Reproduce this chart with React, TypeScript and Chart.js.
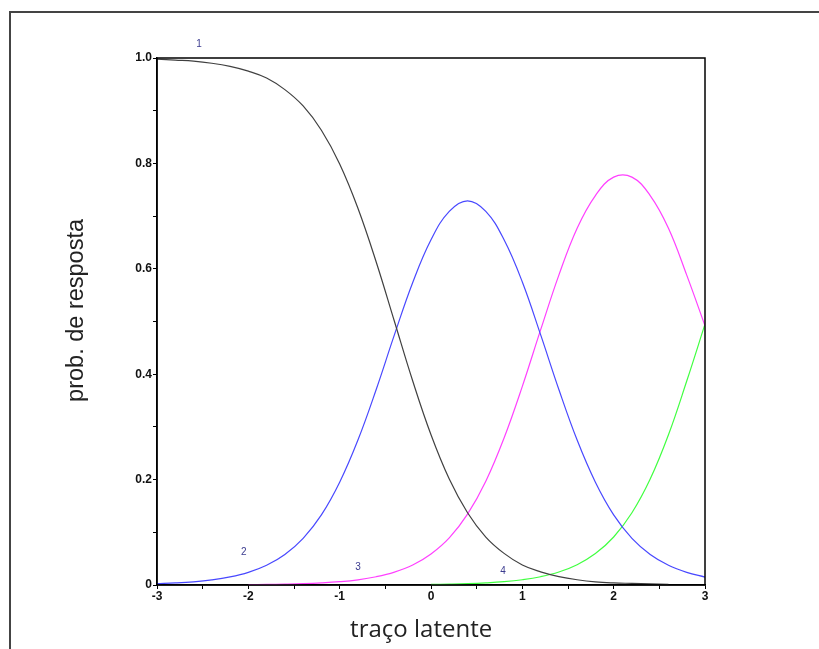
import React, { useEffect, useRef } from "react";
import { Chart, registerables } from "chart.js";

Chart.register(...registerables);

// latent trait values (x axis)
const theta = [-3, -2.8, -2.6, -2.4, -2.2, -2, -1.8, -1.6, -1.4, -1.2, -1, -0.8, -0.6, -0.4, -0.2, 0, 0.2, 0.4, 0.6, 0.8, 1, 1.2, 1.4, 1.6, 1.8, 2, 2.2, 2.4, 2.6, 2.8, 3];

// category 1 (black)
const cat1 = [0.998, 0.996, 0.994, 0.99, 0.984, 0.975, 0.962, 0.94, 0.909, 0.863, 0.799, 0.715, 0.613, 0.5, 0.387, 0.285, 0.201, 0.137, 0.091, 0.06, 0.038, 0.025, 0.016, 0.01, 0.006, 0.004, 0.003, 0.002, 0.001, null, null];
// category 2 (blue)
const cat2 = [0.0025, 0.0039, 0.0061, 0.0097, 0.0153, 0.024, 0.0375, 0.058, 0.0886, 0.133, 0.195, 0.275, 0.371, 0.475, 0.574, 0.655, 0.709, 0.729, 0.709, 0.655, 0.575, 0.475, 0.371, 0.275, 0.195, 0.133, 0.0885, 0.058, 0.0375, 0.024, 0.015];
// category 3 (magenta)
const cat3 = [null, null, null, null, null, 0.0006, 0.001, 0.0016, 0.0025, 0.004, 0.0063, 0.0099, 0.0157, 0.0245, 0.038, 0.059, 0.0895, 0.1345, 0.197, 0.279, 0.377, 0.484, 0.588, 0.677, 0.739, 0.774, 0.774, 0.739, 0.677, 0.588, 0.492];
// category 4 (green)
const cat4 = [null, null, null, null, null, null, null, null, null, null, null, null, null, null, null, 0.001, 0.0016, 0.0025, 0.004, 0.0063, 0.01, 0.0157, 0.0246, 0.0385, 0.0596, 0.0911, 0.137, 0.201, 0.285, 0.387, 0.495];

// curve labels
const curveLabels = ["1", "2", "3", "4"];
const curveLabelX = [-2.54, -2.05, -0.8, 0.79];
const curveLabelY = [1.027, 0.063, 0.034, 0.027];

const xTitle = "traço latente";
const yTitle = "prob. de resposta";

export default function App() {
  const ref = useRef<HTMLCanvasElement | null>(null);

  useEffect(() => {
    if (!ref.current) return;
    const mk = (arr: (number | null)[]) => theta.map((t, i) => ({ x: t, y: arr[i] }));

    const boxPlugin = {
      id: "boxAndLabels",
      afterDraw(chart: any) {
        const { ctx, chartArea, scales } = chart;
        const w = chartArea.right - chartArea.left;
        const h = chartArea.bottom - chartArea.top;
        ctx.save();
        ctx.strokeStyle = "#000";
        ctx.lineWidth = 1.5;
        ctx.strokeRect(chartArea.left, chartArea.top, w, h);

        // curve labels
        ctx.fillStyle = "#3b3b8f";
        ctx.font = "10px 'Liberation Sans', Arial, sans-serif";
        ctx.textAlign = "center";
        ctx.textBaseline = "middle";
        curveLabels.forEach((s, i) => {
          ctx.fillText(s, scales.x.getPixelForValue(curveLabelX[i]), scales.y.getPixelForValue(curveLabelY[i]));
        });

        // axis titles
        ctx.fillStyle = "#222";
        ctx.font = "24px 'Open Sans', sans-serif";
        ctx.fillText(xTitle, chartArea.left + w * 0.482, chartArea.bottom + 45);

        ctx.translate(chartArea.left - 80, chartArea.top + h * 0.479);
        ctx.rotate(-Math.PI / 2);
        ctx.font = "23.5px 'Liberation Sans', Arial, sans-serif";
        ctx.fillText(yTitle, 0, 0);
        ctx.restore();
      },
    };

    const tickFont = { family: "'Liberation Sans', Arial, sans-serif", size: 12, weight: "bold" as const };

    const chart = new Chart(ref.current, {
      type: "line",
      data: {
        datasets: [
          { data: mk(cat1) as any, borderColor: "#404040", borderWidth: 1.2, pointRadius: 0, tension: 0.4, fill: false },
          { data: mk(cat2) as any, borderColor: "#4848ff", borderWidth: 1.2, pointRadius: 0, tension: 0.4, fill: false },
          { data: mk(cat3) as any, borderColor: "#ff40ff", borderWidth: 1.2, pointRadius: 0, tension: 0.4, fill: false },
          { data: mk(cat4) as any, borderColor: "#40ff40", borderWidth: 1.2, pointRadius: 0, tension: 0.4, fill: false },
        ],
      },
      options: {
        responsive: false,
        animation: false,
        events: [],
        layout: { padding: { left: 0, top: 58, right: 114, bottom: 0 } },
        plugins: { legend: { display: false }, tooltip: { enabled: false } },
        scales: {
          x: {
            type: "linear",
            min: -3,
            max: 3,
            afterFit: (s: any) => { s.height = 64; },
            ticks: {
              stepSize: 0.5,
              autoSkip: false,
              maxRotation: 0,
              padding: 0,
              color: "#111",
              font: tickFont,
              callback: (v: any) => (Number.isInteger(Number(v)) ? String(v) : ""),
            },
            grid: { display: true, drawOnChartArea: false, drawTicks: true, tickLength: 4, color: "#000", lineWidth: 1 },
            border: { display: true, color: "#000", width: 1.5 },
            title: { display: false },
          },
          y: {
            type: "linear",
            min: 0,
            max: 1,
            afterFit: (s: any) => { s.width = 157; },
            ticks: {
              stepSize: 0.1,
              autoSkip: false,
              padding: 1,
              color: "#111",
              font: tickFont,
              callback: (v: any) => {
                const n = Math.round(Number(v) * 10);
                if (n % 2 !== 0) return "";
                if (n === 0) return "0";
                return (n / 10).toFixed(1);
              },
            },
            grid: { display: true, drawOnChartArea: false, drawTicks: true, tickLength: 4, color: "#000", lineWidth: 1 },
            border: { display: true, color: "#000", width: 1.5 },
            title: { display: false },
          },
        },
      },
      plugins: [boxPlugin],
    });
    return () => chart.destroy();
  }, []);

  return (
    <div style={{ position: "fixed", left: 0, top: 0, width: 819, height: 649, background: "#fff" }}>
      <div
        style={{
          position: "absolute",
          left: 9,
          top: 11,
          width: 810,
          height: 638,
          boxSizing: "border-box",
          borderTop: "2px solid #444",
          borderLeft: "2px solid #444",
        }}
      />
      <canvas ref={ref} width={819} height={649} style={{ position: "absolute", left: 0, top: 0, display: "block" }} />
    </div>
  );
}
